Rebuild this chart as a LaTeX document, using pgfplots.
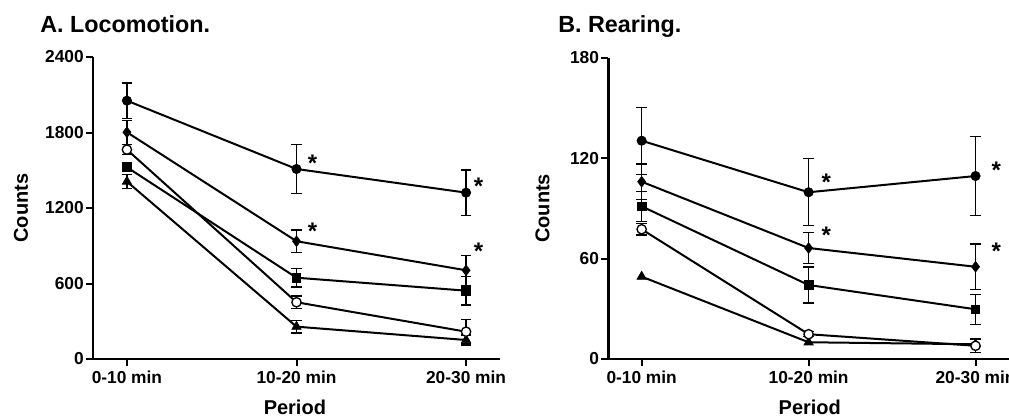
\documentclass[border=0pt]{standalone}
\usepackage{pgfplots}
\pgfplotsset{compat=1.18}
\usepackage{fontspec}
\setmainfont{Liberation Sans}

% 1 px of the reference = 0.75pt
\newcommand{\tickfont}{\fontsize{13}{15}\selectfont\bfseries}
\newcommand{\labfont}{\fontsize{15}{17}\selectfont\bfseries}
\newcommand{\starfont}{\fontsize{18}{20}\selectfont\bfseries}
\newcommand{\titfont}{\fontsize{17.5}{20}\selectfont\bfseries}

\pgfplotsset{
  panel/.style={
    scale only axis,
    anchor=south west,
    axis x line=bottom, axis y line=left,
    axis line style={-, line width=2pt},
    tick align=outside,
    major tick length=5.25pt,
    tick style={line width=1.5pt, black},
    xtick={0,1,2},
    xticklabels={0-10 min,10-20 min,20-30 min},
    ticklabel style={font=\tickfont},
    yticklabel style={inner sep=1.5pt},
    /pgf/number format/assume math mode=true,
    /pgf/number format/1000 sep={},
    label style={font=\labfont},
    xlabel=Period, ylabel=Counts,
    clip=false,
    every axis plot/.append style={line width=1.5pt, black},
    error bars/error bar style={line width=1pt, solid},
    error bars/error mark options={rotate=90, line width=1pt, mark size=4pt},
  },
  filled/.style={mark=*, mark size=3.5pt, mark options={fill=black, line width=0.5pt}},
  dia/.style={mark=diamond*, mark size=4pt, mark options={fill=black, line width=0.5pt}},
  sq/.style={mark=square*, mark size=3.2pt, mark options={fill=black, line width=0.5pt}},
  tri/.style={mark=triangle*, mark size=4pt, mark options={fill=black, line width=0.5pt}},
  open/.style={mark=*, mark size=3.5pt, mark options={fill=white, draw=black, line width=1pt}},
  stars/.style={draw=none, mark=none, nodes near coords={*},
    nodes near coords align={center},
    every node near coord/.append style={font=\starfont, inner sep=0pt}},
}

\begin{document}
\begin{tikzpicture}
\useasboundingbox (0,0) rectangle (756.75pt,-315pt);

\node[anchor=base west, font=\titfont, inner sep=0pt] at (30pt,-24.75pt) {A. Locomotion.};
\node[anchor=base west, font=\titfont, inner sep=0pt] at (418.5pt,-24.75pt) {B. Rearing.};

% Panel A: locomotion
\begin{axis}[panel,
    at={(69.75pt,-269.25pt)},
    width=305.25pt, height=226.5pt,
    xmin=-0.2, xmax=2.2,
    ymin=0, ymax=2400,
    ytick={0,600,1200,1800,2400},
    y label style={at={(axis description cs:-0.177,0.5)}, anchor=center},
    x label style={at={(axis description cs:0.496,-0.159)}, anchor=center},
]
\addplot[tri, error bars/.cd, y dir=both, y explicit] coordinates {
    (0,1410) +- (0,55) (1,257) +- (0,50) (2,151) +- (0,40)
};
\addplot[sq, error bars/.cd, y dir=both, y explicit] coordinates {
    (0,1524) +- (0,35) (1,646) +- (0,75) (2,543) +- (0,113)
};
\addplot[dia, error bars/.cd, y dir=both, y explicit] coordinates {
    (0,1802) +- (0,95) (1,936) +- (0,90) (2,705) +- (0,120)
};
\addplot[filled, error bars/.cd, y dir=both, y explicit] coordinates {
    (0,2053) +- (0,140) (1,1510) +- (0,195) (2,1322) +- (0,180)
};
\addplot[open, error bars/.cd, y dir=both, y explicit] coordinates {
    (0,1664) +- (0,40) (1,451) +- (0,50) (2,217) +- (0,95)
};
\addplot[stars] coordinates {
    (1.094,1556) (1.094,1012) (2.073,1370) (2.073,853)
};
\end{axis}

% Panel B: rearing
\begin{axis}[panel,
    at={(456.2pt,-269.25pt)},
    width=300.5pt, height=226pt,
    xmin=-0.2, xmax=2.2,
    ymin=0, ymax=180,
    ytick={0,60,120,180},
    y label style={at={(axis description cs:-0.164,0.5)}, anchor=center},
    x label style={at={(axis description cs:0.503,-0.159)}, anchor=center},
]
\addplot[tri] coordinates {
    (0,49.2) (1,10) (2,8.8)
};
\addplot[sq, error bars/.cd, y dir=both, y explicit] coordinates {
    (0,91.2) +- (0,9) (1,44.2) +- (0,10.8) (2,29.7) +- (0,9)
};
\addplot[dia, error bars/.cd, y dir=both, y explicit] coordinates {
    (0,105.9) +- (0,10.5) (1,66.3) +- (0,9.3) (2,55.1) +- (0,13.5)
};
\addplot[filled, error bars/.cd, y dir=both, y explicit] coordinates {
    (0,130.4) +- (0,20) (1,99.6) +- (0,20) (2,109.3) +- (0,23.5)
};
\addplot[open, error bars/.cd, y dir=both, y explicit] coordinates {
    (0,77.5) +- (0,3.5) (1,14.8) +- (0,1.5) (2,7.9) +- (0,4)
};
\addplot[stars] coordinates {
    (1.106,105.3) (1.106,74.1) (2.124,112.5) (2.124,64.1)
};
\end{axis}
\end{tikzpicture}
\end{document}
